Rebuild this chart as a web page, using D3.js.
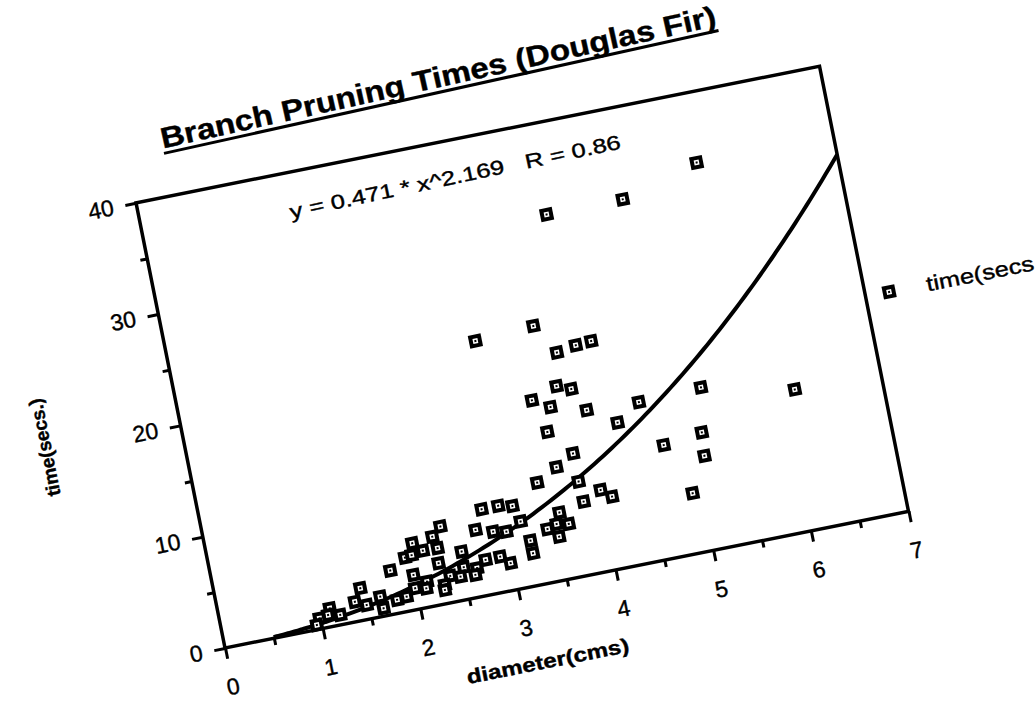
<!DOCTYPE html>
<html>
<head>
<meta charset="utf-8">
<script src="https://cdn.jsdelivr.net/npm/d3@7"></script>
<style>
body { margin: 0; background: #fff; }
text { font-family: Arial, "Liberation Sans", Helvetica, sans-serif; fill: #000; stroke: #000; stroke-width: 0.4px; }
</style>
</head>
<body>
<div id="chart"></div>
<script>
// diameter (cms) and pruning time (secs)
var diameter = [5.60, 4.80, 4.02, 3.67, 3.07, 3.85, 4.05, 4.21,
  5.20, 6.12, 4.56, 4.03, 4.31, 5.12, 4.72, 5.10, 4.91,
  4.01, 4.11, 3.82, 3.81,
  3.78, 3.92, 3.51, 3.68, 3.60,
  3.81, 3.62, 3.40,
  2.80, 2.97, 3.11,
  3.16, 2.70, 2.87, 3.00, 3.22, 3.22,
  3.56, 3.41, 3.51, 3.63, 3.51,
  2.36, 2.26, 2.05, 2.14, 2.29, 2.52, 1.95, 2.27, 2.51, 2.74, 2.89, 2.98, 2.64, 2.00,
  2.36, 2.46, 2.61, 2.12, 2.29,
  1.78, 2.02, 1.45, 1.63, 1.37, 1.48, 1.11, 1.08, 1.20, 0.99, 0.95, 1.64, 1.79, 1.89, 1.99, 2.10, 2.28];
var time = [33.8, 31.9, 31.9, 22.5, 22.2, 19.8, 20.1, 20.2,
  14.3, 12.5, 14.1, 14.3, 12.7, 10.4, 9.96, 8.33, 5.30,
  7.17, 6.40, 6.46, 8.28,
  16.9, 16.4, 16.1, 15.2, 13.1,
  10.8, 9.9, 8.9,
  7.56, 7.57, 7.31,
  5.83, 5.88, 5.43, 5.20, 4.00, 2.87,
  5.93, 4.71, 4.99, 4.79, 3.85,
  6.78, 6.04, 5.82, 5.00, 4.96, 4.25, 4.70, 3.64, 2.86, 3.12, 3.14, 2.40, 2.55, 3.06,
  2.34, 2.10, 2.00, 2.25, 1.65,
  3.84, 4.80, 2.83, 1.76, 1.75, 1.27, 1.62, 1.07, 0.87, 0.93, 0.40, 0.70, 1.19, 1.30, 1.88, 1.68, 1.22];

var xTicks = [0, 1, 2, 3, 4, 5, 6, 7];
var yTicks = [0, 10, 20, 30, 40];
var fitA = 0.471, fitB = 2.169, fitFrom = 0.5, fitTo = 7;

var width = 1036, height = 705;
var plotW = 697, plotH = 454;

var svg = d3.select('#chart')
  .append('svg')
  .attr('width', width)
  .attr('height', height);

// the scanned page is tilted, so the whole chart sits in a rotated group
var g = svg.append('g')
  .attr('transform', 'translate(225,648) rotate(-11.3) translate(0,' + (-plotH) + ')');

var x = d3.scaleLinear().domain([0, 7]).range([0, plotW]);
var y = d3.scaleLinear().domain([0, 40]).range([plotH, 0]);

// minor ticks
g.append('g')
  .attr('transform', 'translate(0,' + plotH + ')')
  .call(d3.axisBottom(x).tickValues(d3.range(0.5, 7, 1)).tickSize(7).tickFormat(''))
  .call(function(a) { a.select('.domain').remove(); a.selectAll('line').attr('stroke-width', 3); });
g.append('g')
  .call(d3.axisLeft(y).tickValues(d3.range(5, 40, 10)).tickSize(7).tickFormat(''))
  .call(function(a) { a.select('.domain').remove(); a.selectAll('line').attr('stroke-width', 3); });

// major ticks
g.append('g')
  .attr('transform', 'translate(0,' + plotH + ')')
  .call(d3.axisBottom(x).tickValues(xTicks).tickSize(11).tickPadding(20).tickFormat(d3.format('d')))
  .call(function(a) {
    a.select('.domain').remove();
    a.selectAll('line').attr('stroke-width', 3);
    a.selectAll('text').style('font-size', '23px').attr('font-family', null).attr('fill', null);
  });
g.append('g')
  .call(d3.axisLeft(y).tickValues(yTicks).tickSize(11).tickPadding(12).tickFormat(d3.format('d')))
  .call(function(a) {
    a.select('.domain').remove();
    a.selectAll('line').attr('stroke-width', 3);
    a.selectAll('text').style('font-size', '23px').attr('font-family', null).attr('fill', null);
  });

// frame
g.append('rect')
  .attr('x', 0).attr('y', 0)
  .attr('width', plotW).attr('height', plotH)
  .attr('fill', 'none')
  .attr('stroke', '#000')
  .attr('stroke-width', 3.5);

// fitted power curve
var fitX = d3.range(fitFrom, fitTo + 0.001, 0.05);
var line = d3.line()
  .x(function(d) { return x(d); })
  .y(function(d) { return y(fitA * Math.pow(d, fitB)); })
  .curve(d3.curveMonotoneX);
g.append('path')
  .datum(fitX)
  .attr('d', line)
  .attr('fill', 'none')
  .attr('stroke', '#000')
  .attr('stroke-width', 4);

function marker(sel) {
  sel.append('rect').attr('x', -6.5).attr('y', -6.5).attr('width', 13).attr('height', 13).attr('fill', '#000');
  sel.append('rect').attr('x', -2.5).attr('y', -2.5).attr('width', 5).attr('height', 5).attr('fill', '#fff');
  sel.append('rect').attr('x', -1).attr('y', -1).attr('width', 2).attr('height', 2).attr('fill', '#000');
}

var pts = diameter.map(function(d, i) { return [d, time[i]]; });
g.selectAll('g.pt')
  .data(pts)
  .enter()
  .append('g')
  .attr('class', 'pt')
  .attr('transform', function(d) { return 'translate(' + x(d[0]) + ',' + y(d[1]) + ')'; })
  .call(marker);

// title, underlined
var title = g.append('g').attr('transform', 'translate(37,-48) rotate(-1.2)');
title.append('text')
  .attr('x', 0).attr('y', 0)
  .attr('textLength', 568)
  .attr('lengthAdjust', 'spacingAndGlyphs')
  .style('font-size', '29px')
  .style('font-weight', 'bold')
  .text('Branch Pruning Times (Douglas Fir)');
title.append('line')
  .attr('x1', 0).attr('x2', 568)
  .attr('y1', 5).attr('y2', 5)
  .attr('stroke', '#000')
  .attr('stroke-width', 3);

// fit equation
g.append('text')
  .attr('transform', 'translate(149,46) rotate(-0.7)')
  .attr('textLength', 338)
  .attr('lengthAdjust', 'spacingAndGlyphs')
  .style('white-space', 'pre')
  .style('font-size', '20px')
  .text('y = 0.471 * x^2.169   R = 0.86');

// axis titles
g.append('text')
  .attr('x', 314).attr('y', 537)
  .attr('text-anchor', 'middle')
  .attr('textLength', 165)
  .attr('lengthAdjust', 'spacingAndGlyphs')
  .style('font-size', '20px')
  .style('font-weight', 'bold')
  .text('diameter(cms)');

g.append('text')
  .attr('transform', 'translate(-131,222) rotate(-90)')
  .attr('text-anchor', 'middle')
  .style('font-size', '19px')
  .style('font-weight', 'bold')
  .text('time(secs.)');

// legend
var legend = g.append('g').attr('transform', 'translate(721,235)');
legend.call(marker);
legend.append('text')
  .attr('x', 38).attr('y', 7)
  .attr('textLength', 125)
  .attr('lengthAdjust', 'spacingAndGlyphs')
  .style('font-size', '21px')
  .text('time(secs.)');
</script>
</body>
</html>
